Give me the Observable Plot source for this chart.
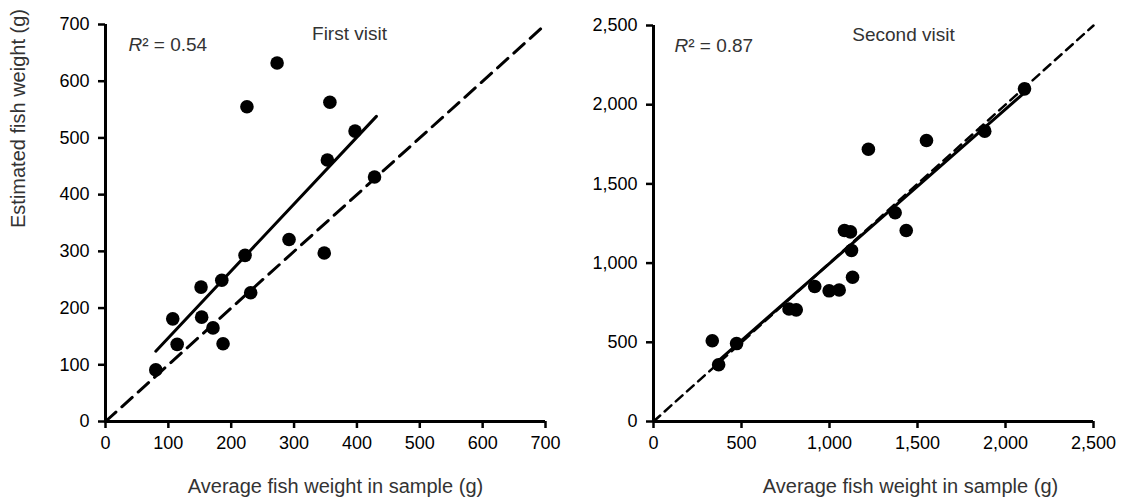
<!DOCTYPE html>
<html><head><meta charset="utf-8">
<script src="https://cdn.jsdelivr.net/npm/d3@7"></script>
<script src="https://cdn.jsdelivr.net/npm/@observablehq/plot@0.6"></script>
<style>
body{margin:0;background:#fff;}
#wrap{display:flex;width:1122px;height:502px;font-family:"Liberation Sans",Arial,sans-serif;}
</style></head><body><div id="wrap"></div>
<script>
// First visit data
const firstX = [80, 107, 114, 152, 153, 171, 185, 187, 222, 231, 225, 273, 292, 348, 353, 357, 397, 428];
const firstY = [91, 181, 136, 237, 184, 165, 249, 137, 293, 227, 555, 632, 321, 297, 461, 563, 512, 431];
const firstFitX = [80, 431];
const firstFitY = [124, 538];
const firstTicks = [0, 100, 200, 300, 400, 500, 600, 700];
const firstTitle = "First visit";
const firstR2 = "0.54";

// Second visit data
const secondX = [334, 370, 472, 770, 811, 916, 998, 1055, 1085, 1119, 1125, 1131, 1221, 1373, 1436, 1551, 1882, 2108];
const secondY = [510, 358, 492, 710, 705, 852, 825, 830, 1206, 1197, 1080, 911, 1719, 1318, 1206, 1774, 1833, 2100];
const secondFitX = [370, 2110];
const secondFitY = [385, 2078];
const secondTicks = [0, 500, 1000, 1500, 2000, 2500];
const secondTitle = "Second visit";
const secondR2 = "0.87";

const xLabel = "Average fish weight in sample (g)";
const yLabel = "Estimated fish weight (g)";

function panel(o) {
  const pts = o.xs.map((x, i) => ({x, y: o.ys[i]}));
  const fit = o.fitX.map((x, i) => ({x, y: o.fitY[i]}));
  const maxV = o.ticks[o.ticks.length - 1];
  const ident = [{x: 0, y: 0}, {x: maxV, y: maxV}];
  const fmt = o.comma ? d3.format(",") : (d => String(d));
  const marks = [
    Plot.line(ident, {x: "x", y: "y", stroke: "black", strokeWidth: o.dashW, strokeDasharray: o.dash}),
    Plot.line(fit, {x: "x", y: "y", stroke: "black", strokeWidth: 3}),
    Plot.dot(pts, {x: "x", y: "y", r: 6.8, fill: "black", stroke: "none"}),
    Plot.ruleX([0], {stroke: "black", strokeWidth: 3}),
    Plot.ruleY([0], {stroke: "black", strokeWidth: 3}),
    Plot.axisX(o.ticks, {tickSize: 7, tickPadding: 8, tickFormat: fmt, label: null, color: "black", strokeWidth: 2.5, fontSize: 18}),
    Plot.axisY(o.ticks, {tickSize: 7, tickPadding: 9, tickFormat: fmt, label: null, color: "black", strokeWidth: 2.5, fontSize: 18}),
    Plot.text([o.title], {frameAnchor: "top", dx: o.titleDx, dy: 2, fill: "#333", fontSize: 19}),
    Plot.text(["R"], {frameAnchor: "top-left", textAnchor: "start", dx: o.r2Dx, dy: 13, fontStyle: "italic", fill: "#333", fontSize: 19}),
    Plot.text(["\u00b2 = " + o.r2], {frameAnchor: "top-left", textAnchor: "start", dx: o.r2Dx + 13.7, dy: 13, fill: "#333", fontSize: 19}),
    Plot.text([xLabel], {frameAnchor: "bottom", dx: o.xLabelDx, dy: 71, fill: "#333", fontSize: 20})
  ];
  if (o.yLabel) {
    marks.push(Plot.text([o.yLabel], {frameAnchor: "left", rotate: -90, dx: -87, dy: 5, fill: "#333", fontSize: 20}));
  }
  return Plot.plot({
    width: 561, height: 502,
    marginLeft: o.ml, marginRight: o.mr, marginTop: o.mt, marginBottom: 81,
    x: {domain: [0, maxV], axis: null},
    y: {domain: [0, maxV], axis: null},
    style: {fontFamily: "'Liberation Sans', Arial, sans-serif", background: "white", overflow: "visible", color: "#333"},
    marks
  });
}

const wrap = document.getElementById("wrap");
wrap.appendChild(panel({xs: firstX, ys: firstY, fitX: firstFitX, fitY: firstFitY, ticks: firstTicks, comma: false,
  title: firstTitle, r2: firstR2, ml: 105, mr: 16, mt: 24, dash: "14,8", dashW: 3, titleDx: 24, r2Dx: 23, xLabelDx: 10, yLabel: yLabel}));
wrap.appendChild(panel({xs: secondX, ys: secondY, fitX: secondFitX, fitY: secondFitY, ticks: secondTicks, comma: true,
  title: secondTitle, r2: secondR2, ml: 92, mr: 29, mt: 25, dash: "9,6", dashW: 2.5, titleDx: 30, r2Dx: 21, xLabelDx: 37}));
</script></body></html>
